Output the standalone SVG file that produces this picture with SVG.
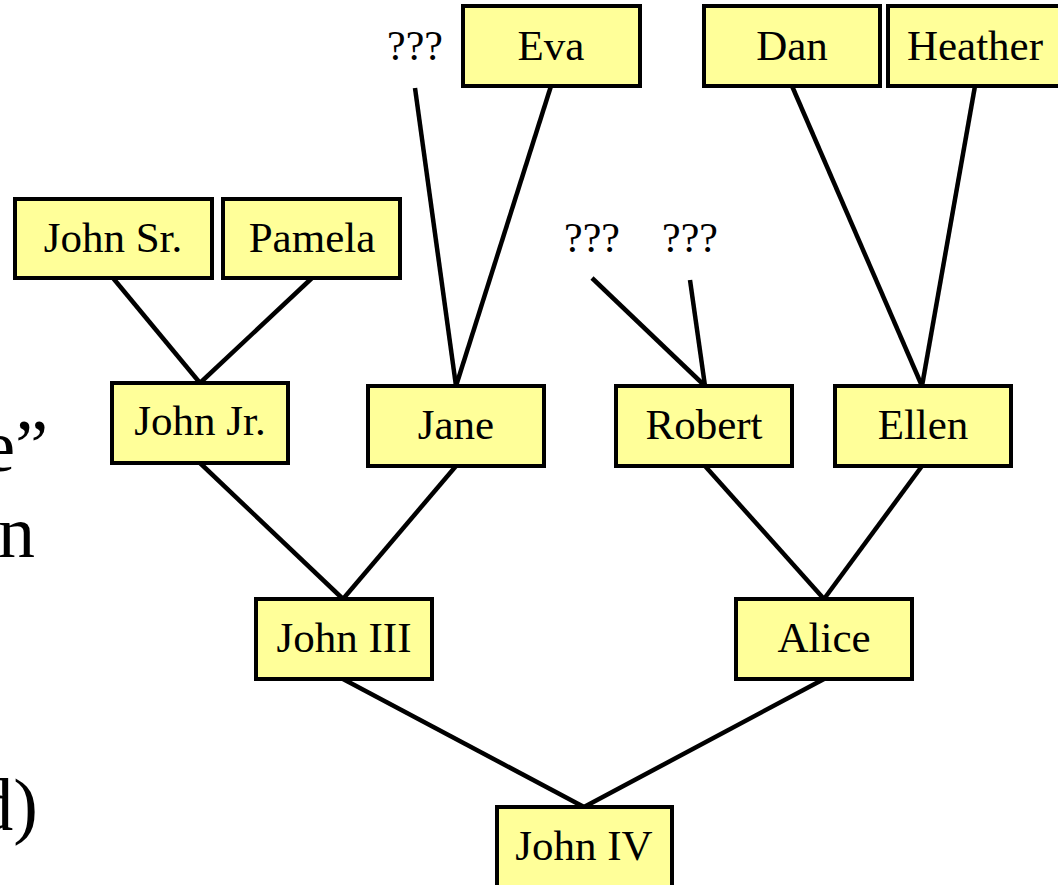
<svg xmlns="http://www.w3.org/2000/svg" width="1058" height="885" viewBox="0 0 1058 885">
<style>
.box{fill:#FFFF99;stroke:#000;stroke-width:4}
.lbl{font-family:"Liberation Serif","Times New Roman",serif;font-size:43px;fill:#000;text-anchor:middle}
.q{font-family:"Liberation Serif","Times New Roman",serif;font-size:42px;fill:#000;text-anchor:middle}
.big{font-family:"Liberation Serif","Times New Roman",serif;font-size:74px;fill:#000;text-anchor:end}
.edge{stroke:#000;stroke-width:4.5;fill:none}
</style>
<rect width="1058" height="885" fill="#fff"/>
<g id="bg-text">
<text class="big" x="48" y="471">e”</text>
<text class="big" x="35" y="557">wn</text>
<text class="big" x="38" y="830">d)</text>
</g>
<g id="connectors">
<line class="edge" x1="113" y1="278" x2="200" y2="383"/>
<line class="edge" x1="312" y1="278" x2="200" y2="383"/>
<line class="edge" x1="415" y1="88" x2="456" y2="386"/>
<line class="edge" x1="551" y1="86" x2="456" y2="386"/>
<line class="edge" x1="592" y1="278" x2="705" y2="386"/>
<line class="edge" x1="690" y1="280" x2="705" y2="386"/>
<line class="edge" x1="792" y1="86" x2="922" y2="386"/>
<line class="edge" x1="975" y1="86" x2="922" y2="386"/>
<line class="edge" x1="200" y1="463" x2="343" y2="599"/>
<line class="edge" x1="456" y1="466" x2="343" y2="599"/>
<line class="edge" x1="705" y1="466" x2="824" y2="599"/>
<line class="edge" x1="922" y1="466" x2="824" y2="599"/>
<line class="edge" x1="343" y1="679" x2="584" y2="807"/>
<line class="edge" x1="824" y1="679" x2="584" y2="807"/>
</g>
<g id="unknown-labels">
<text class="q" x="415" y="60">???</text>
<text class="q" x="592" y="252">???</text>
<text class="q" x="690" y="252">???</text>
</g>
<g id="eva"><rect class="box" x="463" y="6" width="177" height="80"/><text class="lbl" x="551" y="60">Eva</text></g>
<g id="dan"><rect class="box" x="704" y="6" width="176" height="80"/><text class="lbl" x="792" y="60">Dan</text></g>
<g id="heather"><rect class="box" x="888" y="6" width="176" height="80"/><text class="lbl" x="975" y="60">Heather</text></g>
<g id="john-sr"><rect class="box" x="15" y="199" width="197" height="79"/><text class="lbl" x="113" y="252">John Sr.</text></g>
<g id="pamela"><rect class="box" x="223" y="199" width="177" height="79"/><text class="lbl" x="312" y="252">Pamela</text></g>
<g id="john-jr"><rect class="box" x="112" y="383" width="176" height="80"/><text class="lbl" x="200" y="435">John Jr.</text></g>
<g id="jane"><rect class="box" x="368" y="386" width="176" height="80"/><text class="lbl" x="456" y="439">Jane</text></g>
<g id="robert"><rect class="box" x="616" y="386" width="176" height="80"/><text class="lbl" x="704" y="439">Robert</text></g>
<g id="ellen"><rect class="box" x="835" y="386" width="176" height="80"/><text class="lbl" x="923" y="439">Ellen</text></g>
<g id="john-iii"><rect class="box" x="256" y="599" width="176" height="80"/><text class="lbl" x="344" y="652">John III</text></g>
<g id="alice"><rect class="box" x="736" y="599" width="176" height="80"/><text class="lbl" x="824" y="652">Alice</text></g>
<g id="john-iv"><rect class="box" x="497" y="807" width="175" height="90"/><text class="lbl" x="584" y="860">John IV</text></g>
</svg>
